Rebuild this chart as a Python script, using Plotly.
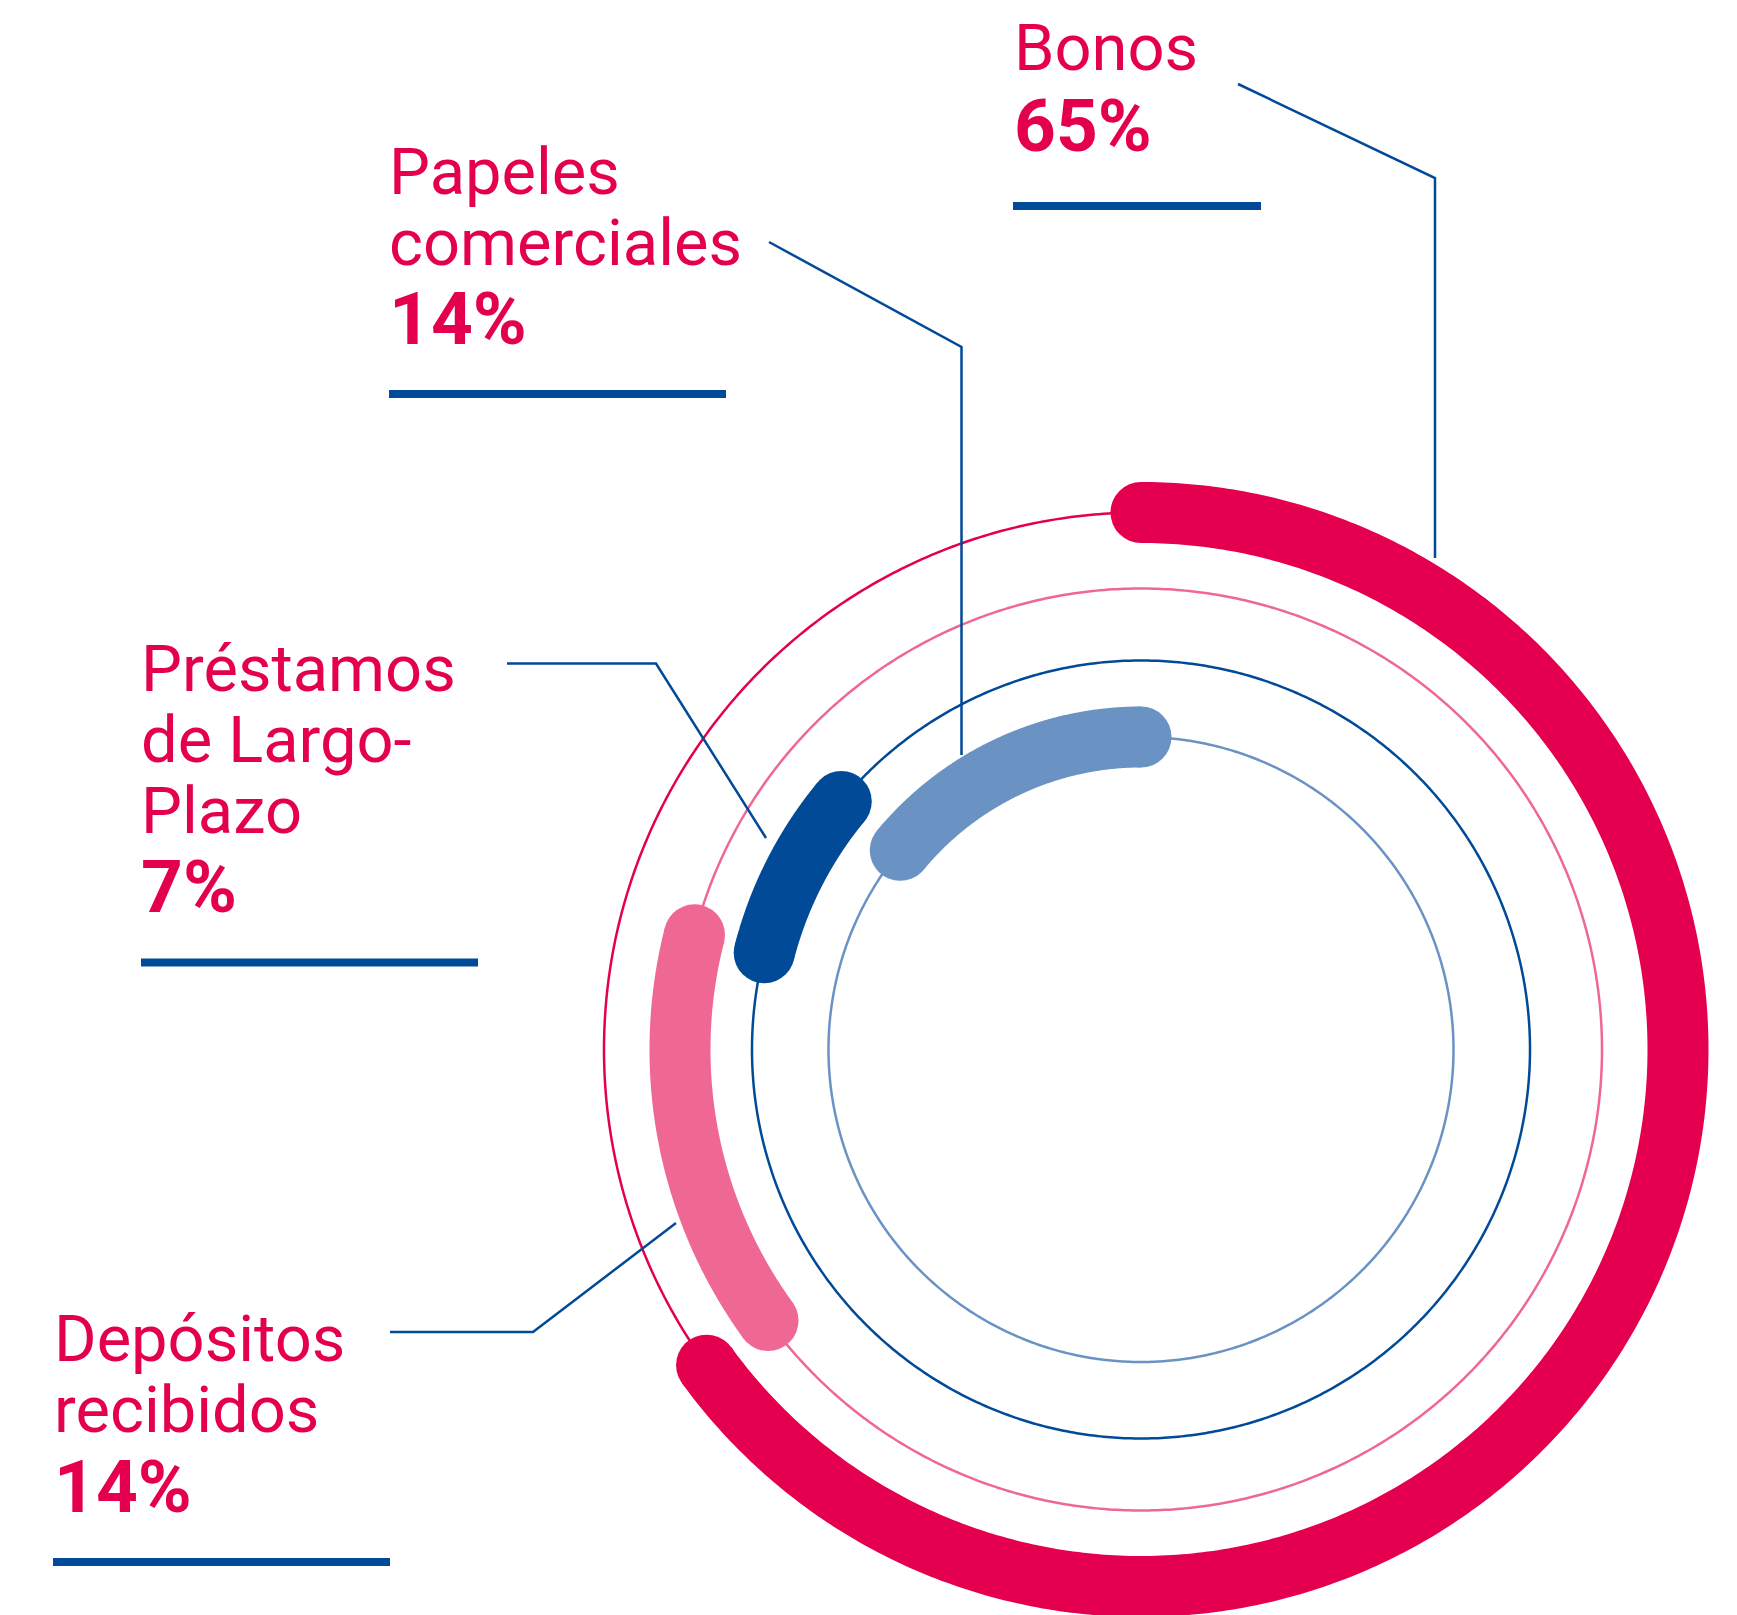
import numpy as np
import plotly.graph_objects as go

# ---- data -------------------------------------------------------------
categories = ["Bonos", "Depósitos recibidos", "Préstamos de Largo-Plazo", "Papeles comerciales"]
shares = [65, 14, 7, 14]
label_lines = [["Bonos"], ["Depósitos", "recibidos"], ["Préstamos", "de Largo-", "Plazo"], ["Papeles", "comerciales"]]
value_labels = [f"{v}%" for v in shares]

# ---- styling / geometry ----------------------------------------------
W, H = 1737, 1615
CX, CY = 1141, 1049.5
ring_radius = [537, 461, 389, 312.5]
arc_colors = ["#E4004F", "#EF6894", "#004A98", "#6A93C4"]
TEXT_RED = "#E4004F"
LINE_BLUE = "#004A98"
ARC_WIDTH = 61
THIN_WIDTH = 2.5
FONT = "Roboto, sans-serif"
FS = 65        # category names
FS_VAL = 73    # bold percentages

# label blocks: left x, baselines of the name lines, baseline of the value,
# underline (x0, x1, y)
label_x = [1014, 54, 141, 389]
name_baselines = [[70], [1361, 1432], [691, 762, 833], [194, 265]]
value_baseline = [151, 1512, 912, 344]
underline = [(1013, 1261, 206), (53, 390, 1562), (141, 478, 962.5), (389, 726, 394)]
leaders = [
    [(1238, 84), (1435, 178), (1435, 558)],
    [(390, 1332), (533, 1332), (676, 1223)],
    [(507, 663.5), (656, 663.5), (766, 838)],
    [(769, 242), (961.5, 347), (961.5, 755)],
]


def ring_xy(r, deg):
    t = np.radians(deg)
    return CX + r * np.sin(t), CY - r * np.cos(t)


fig = go.Figure()

# thin full circles
for r, c in zip(ring_radius, arc_colors):
    x, y = ring_xy(r, np.linspace(0, 360, 721))
    fig.add_trace(go.Scatter(x=x, y=y, mode="lines",
                             line=dict(color=c, width=THIN_WIDTH, simplify=False),
                             hoverinfo="skip", showlegend=False))

# thick arcs, stacked clockwise from 12 o'clock
cum = np.concatenate([[0], np.cumsum(shares)])
for i, (name, r, c) in enumerate(zip(categories, ring_radius, arc_colors)):
    a0, a1 = cum[i] * 3.6, cum[i + 1] * 3.6
    x, y = ring_xy(r, np.linspace(a0, a1, 400))
    fig.add_trace(go.Scatter(x=x, y=y, mode="lines",
                             line=dict(color=c, width=ARC_WIDTH, simplify=False),
                             name=name, hoverinfo="skip", showlegend=False))
    # rounded ends
    fig.add_trace(go.Scatter(x=[x[0], x[-1]], y=[y[0], y[-1]], mode="markers",
                             marker=dict(color=c, size=ARC_WIDTH, line=dict(width=0)),
                             hoverinfo="skip", showlegend=False))

# leader lines
for pts in leaders:
    fig.add_trace(go.Scatter(x=[p[0] for p in pts], y=[p[1] for p in pts], mode="lines",
                             line=dict(color=LINE_BLUE, width=THIN_WIDTH),
                             hoverinfo="skip", showlegend=False))

# labels (text point sits 0.25*font-size below the baseline for "top right")
for i in range(len(categories)):
    for line, base in zip(label_lines[i], name_baselines[i]):
        fig.add_trace(go.Scatter(x=[label_x[i]], y=[base + 0.25 * FS], mode="text", text=[line],
                                 textposition="top right",
                                 textfont=dict(family=FONT, size=FS, color=TEXT_RED),
                                 hoverinfo="skip", showlegend=False))
    fig.add_trace(go.Scatter(x=[label_x[i]], y=[value_baseline[i] + 0.25 * FS_VAL], mode="text",
                             text=[value_labels[i]], textposition="top right",
                             textfont=dict(family=FONT, size=FS_VAL, color=TEXT_RED, weight="bold"),
                             hoverinfo="skip", showlegend=False))
    x0, x1, yy = underline[i]
    fig.add_shape(type="line", x0=x0, x1=x1, y0=yy, y1=yy, xref="x", yref="y",
                  line=dict(color=LINE_BLUE, width=8))

fig.update_layout(
    width=W, height=H, margin=dict(l=0, r=0, t=0, b=0),
    paper_bgcolor="white", plot_bgcolor="white",
    xaxis=dict(range=[0, W], visible=False, fixedrange=True),
    yaxis=dict(range=[H, 0], visible=False, fixedrange=True),
)

fig.write_html("out.html")
